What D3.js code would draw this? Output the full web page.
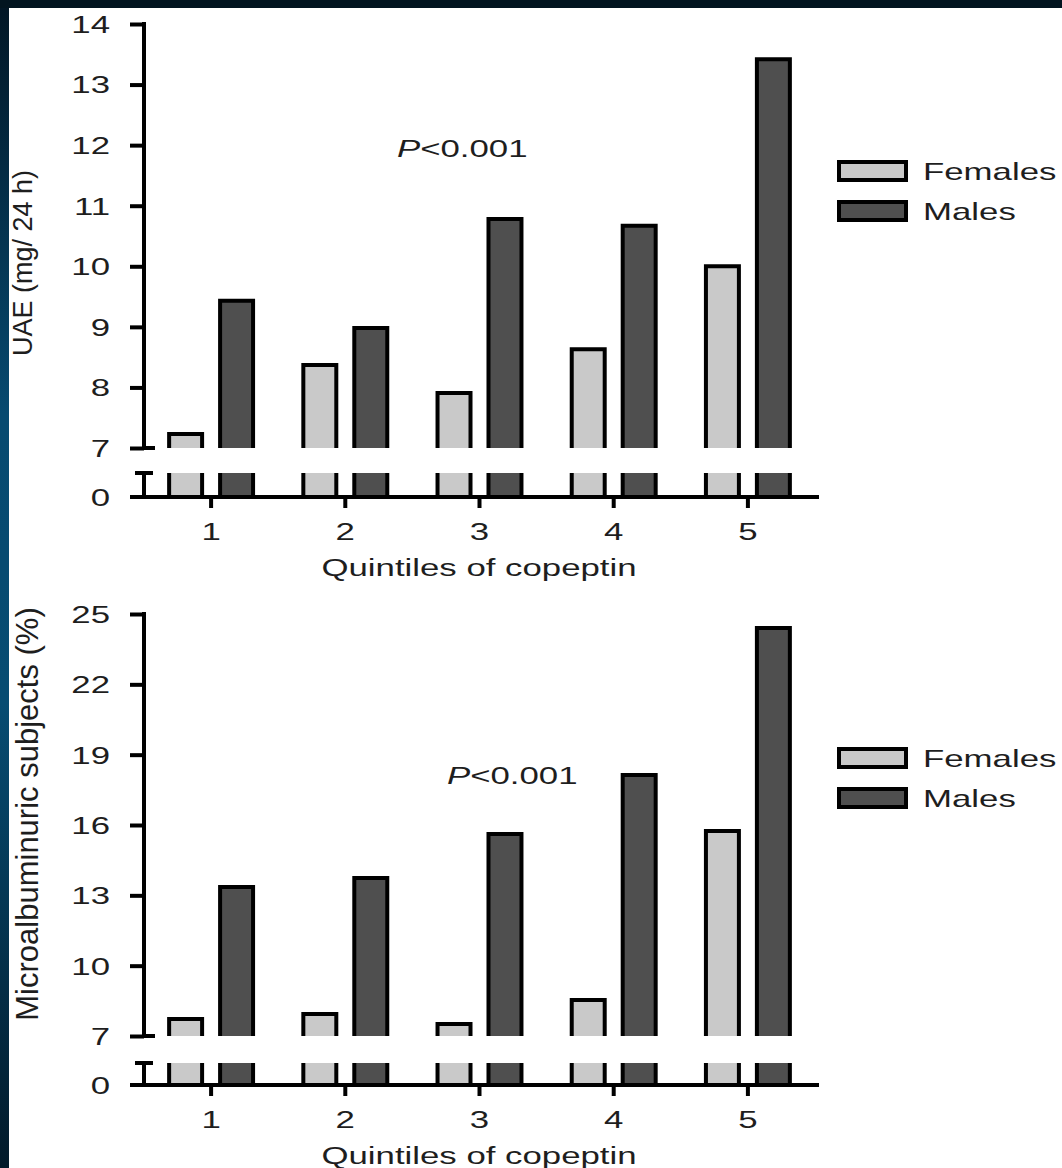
<!DOCTYPE html>
<html>
<head>
<meta charset="utf-8">
<script src="https://cdn.jsdelivr.net/npm/d3@7"></script>
<style>
  body { margin: 0; background: #021520; }
  svg { display: block; }
  text { font-family: "Liberation Sans", Arial, Helvetica, sans-serif; fill: #1e1e1e; font-size: 24px; }
</style>
</head>
<body>
<svg id="chart" width="1062" height="1168"></svg>
<script>
// values
const quintiles = ["1", "2", "3", "4", "5"];
const groups = ["Females", "Males"];

const uaeFemales = [7.23, 8.37, 7.91, 8.63, 10.0];
const uaeMales = [9.43, 8.98, 10.78, 10.67, 13.42];
const uaeTicks = [7, 8, 9, 10, 11, 12, 13, 14];

const microFemales = [7.73, 7.94, 7.51, 8.54, 15.74];
const microMales = [13.36, 13.74, 15.62, 18.13, 24.4];
const microTicks = [7, 10, 13, 16, 19, 22, 25];

const fills = { Females: "#c9c9c9", Males: "#4f4f4f" };
const SX = 1.45; // the picture's text is stretched sideways

const svg = d3.select('#chart');

// dark frame round the white panel
const defs = svg.append('defs');
const grad = defs.append('linearGradient')
    .attr('id', 'side').attr('x1', 0).attr('y1', 0).attr('x2', 0).attr('y2', 1);
grad.append('stop').attr('offset', '0%').attr('stop-color', '#021726');
grad.append('stop').attr('offset', '35%').attr('stop-color', '#074a70');
grad.append('stop').attr('offset', '60%').attr('stop-color', '#074c72');
grad.append('stop').attr('offset', '100%').attr('stop-color', '#021a2a');

svg.append('rect').attr('width', 1062).attr('height', 1168).attr('fill', '#021520');
svg.append('rect').attr('x', 0).attr('y', 8).attr('width', 9).attr('height', 1160).attr('fill', 'url(#side)');
svg.append('rect').attr('x', 9).attr('y', 8).attr('width', 1053).attr('height', 1160).attr('fill', '#fff');

const x = d3.scaleBand().domain(quintiles).range([144, 815]);
const xs = d3.scaleBand().domain(groups).range([0, x.bandwidth()])
    .paddingInner(0.353).paddingOuter(0.493);

function stretchText(sel, tx, ty) {
  sel.attr('x', 0).attr('y', 0)
     .attr('transform', `translate(${tx},${ty}) scale(${SX},1)`);
}

function panel(cfg) {
  const g = svg.append('g');
  const y = d3.scaleLinear().domain([7, d3.max(cfg.ticks)]).range([cfg.breakY, cfg.topY]);
  const yLow = d3.scaleLinear().domain([0, 1]).range([cfg.axisY, cfg.stubY]);

  // bars, split at the axis break
  const rows = quintiles.map((q, i) => ({ q, Females: cfg.females[i], Males: cfg.males[i] }));
  const bars = g.selectAll('.bar')
    .data(rows.flatMap(r => groups.map(k => ({ q: r.q, k, v: r[k] }))))
    .enter();
  const w = xs.bandwidth();

  bars.append('path')
    .attr('d', d => {
      const x0 = x(d.q) + xs(d.k);
      return `M${x0},${cfg.breakY}L${x0},${y(d.v)}L${x0 + w},${y(d.v)}L${x0 + w},${cfg.breakY}`;
    })
    .attr('fill', d => fills[d.k]).attr('stroke', '#000').attr('stroke-width', 4);

  bars.append('path')
    .attr('d', d => {
      const x0 = x(d.q) + xs(d.k);
      return `M${x0},${yLow(1)}L${x0},${yLow(0)}L${x0 + w},${yLow(0)}L${x0 + w},${yLow(1)}`;
    })
    .attr('fill', d => fills[d.k]).attr('stroke', '#000').attr('stroke-width', 4);

  // y axis, upper part
  const ya = g.append('g').attr('transform', 'translate(144,0)')
    .call(d3.axisLeft(y).tickValues(cfg.ticks).tickSize(14).tickFormat(d3.format('d')));
  ya.select('.domain').remove();
  ya.selectAll('.tick line').attr('stroke', '#000').attr('stroke-width', 4);
  ya.selectAll('.tick text').each(function() { stretchText(d3.select(this), -34, 0); })
    .attr('dy', '0.35em');

  g.append('line').attr('x1', 144).attr('x2', 144)
    .attr('y1', cfg.topY - 2).attr('y2', cfg.breakY + 2)
    .attr('stroke', '#000').attr('stroke-width', 4);
  g.append('line').attr('x1', 144).attr('x2', 155)
    .attr('y1', cfg.breakY).attr('y2', cfg.breakY)
    .attr('stroke', '#000').attr('stroke-width', 4);

  // y axis, stub below the break
  const yb = g.append('g').attr('transform', 'translate(144,0)')
    .call(d3.axisLeft(yLow).tickValues([0]).tickSize(14).tickFormat(d3.format('d')));
  yb.select('.domain').remove();
  yb.selectAll('.tick line').remove();
  yb.selectAll('.tick text').each(function() { stretchText(d3.select(this), -34, 0); })
    .attr('dy', '0.35em');
  g.append('line').attr('x1', 144).attr('x2', 144)
    .attr('y1', yLow(1)).attr('y2', yLow(0))
    .attr('stroke', '#000').attr('stroke-width', 4);
  g.append('line').attr('x1', 135).attr('x2', 153)
    .attr('y1', yLow(1)).attr('y2', yLow(1))
    .attr('stroke', '#000').attr('stroke-width', 4);

  // x axis
  g.append('line').attr('x1', 130).attr('x2', 819)
    .attr('y1', cfg.axisY).attr('y2', cfg.axisY)
    .attr('stroke', '#000').attr('stroke-width', 4);
  const xa = g.append('g').attr('transform', `translate(0,${cfg.axisY})`)
    .call(d3.axisBottom(x).tickSize(11).tickPadding(0));
  xa.select('.domain').remove();
  xa.selectAll('.tick line').attr('stroke', '#000').attr('stroke-width', 4);
  xa.selectAll('.tick text').each(function() { stretchText(d3.select(this), 0, 43); })
    .attr('dy', 0);

  g.append('text').attr('text-anchor', 'middle')
    .text('Quintiles of copeptin')
    .call(stretchText, 479, cfg.axisY + 79);

  // y label
  g.append('text').attr('text-anchor', 'middle')
    .style('font-size', cfg.labelSize + 'px')
    .attr('transform', `translate(${cfg.labelX},${cfg.labelY}) rotate(-90)`)
    .text(cfg.label);

  // P value
  const p = g.append('text').call(stretchText, cfg.pX, cfg.pY);
  p.append('tspan').style('font-style', 'italic').text('P');
  p.append('tspan').text('<0.001');

  // legend
  groups.forEach((k, i) => {
    g.append('rect').attr('x', 839).attr('y', cfg.legendY + i * 40)
      .attr('width', 67).attr('height', 18)
      .attr('fill', fills[k]).attr('stroke', '#000').attr('stroke-width', 4);
    g.append('text').text(k).call(stretchText, 923, cfg.legendY + i * 40 + 18);
  });
}

panel({
  females: uaeFemales, males: uaeMales, ticks: uaeTicks,
  topY: 24, breakY: 448, stubY: 473, axisY: 497,
  label: 'UAE (mg/ 24 h)', labelSize: 27, labelX: 32, labelY: 263,
  pX: 397, pY: 157, legendY: 162
});

panel({
  females: microFemales, males: microMales, ticks: microTicks,
  topY: 614, breakY: 1036, stubY: 1063, axisY: 1085,
  label: 'Microalbuminuric subjects (%)', labelSize: 31, labelX: 38, labelY: 814,
  pX: 447, pY: 784, legendY: 749
});
</script>
</body>
</html>
